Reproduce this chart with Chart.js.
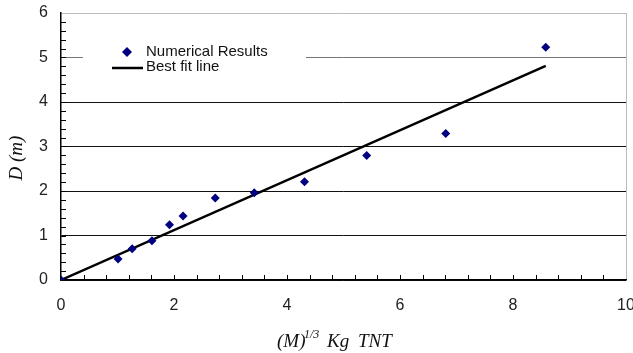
<!DOCTYPE html>
<html>
<head>
<meta charset="utf-8">
<script src="https://cdn.jsdelivr.net/npm/chart.js@4"></script>
<style>
  html, body { margin: 0; padding: 0; background: #fff; }
  #wrap { width: 633px; height: 353px; }
</style>
</head>
<body>
<div id="wrap"><canvas id="chart-depth"></canvas></div>
<script>
// cube root of charge mass (kg TNT) vs crater depth (m)
const massRoot = [0, 1.01, 1.26, 1.61, 1.92, 2.16, 2.73, 3.42, 4.31, 5.41, 6.81, 8.58];
const depth = [0, 0.47, 0.70, 0.88, 1.24, 1.44, 1.84, 1.96, 2.21, 2.80, 3.29, 5.23];

// best fit line end points
const fitX = [0, 8.58];
const fitY = [0, 4.81];

const seriesNames = ['Numerical Results', 'Best fit line'];
const xTicks = [0, 2, 4, 6, 8, 10];
const yTicks = [0, 1, 2, 3, 4, 5, 6];

const NAVY = '#000080';
const TICK_FONT = { family: 'Liberation Sans', size: 16 };

// minor ticks, legend and axis titles
const decor = {
    id: 'decor',
    afterDraw(c) {
        const { ctx, chartArea: a } = c;
        const x = c.scales.x, y = c.scales.y;
        ctx.save();

        ctx.strokeStyle = '#000';
        ctx.lineWidth = 1;
        ctx.beginPath();
        for (let v = 0.4; v < 10; v += 0.4) {
            const px = Math.round(x.getPixelForValue(v)) + 0.5;
            ctx.moveTo(px, a.bottom);
            ctx.lineTo(px, a.bottom - 5);
        }
        for (let v = 0.2; v < 6; v += 0.2) {
            const py = Math.round(y.getPixelForValue(v)) + 0.5;
            ctx.moveTo(a.left, py);
            ctx.lineTo(a.left + 5, py);
        }
        ctx.stroke();

        // legend box
        ctx.fillStyle = '#fff';
        ctx.fillRect(83, 40, 223, 40);
        ctx.fillStyle = NAVY;
        ctx.beginPath();
        ctx.moveTo(122, 52); ctx.lineTo(127, 47); ctx.lineTo(132, 52); ctx.lineTo(127, 57);
        ctx.closePath();
        ctx.fill();
        ctx.strokeStyle = '#000';
        ctx.lineWidth = 2.5;
        ctx.beginPath();
        ctx.moveTo(112, 68); ctx.lineTo(143, 68);
        ctx.stroke();
        ctx.fillStyle = '#111';
        ctx.font = '15px "Liberation Sans"';
        ctx.textBaseline = 'middle';
        ctx.fillText(seriesNames[0], 146, 52);
        ctx.fillText(seriesNames[1], 146, 67);

        // y title
        ctx.save();
        ctx.translate(22, 158);
        ctx.rotate(-Math.PI / 2);
        ctx.font = 'italic 19px "Liberation Serif"';
        ctx.textAlign = 'center';
        ctx.textBaseline = 'alphabetic';
        ctx.fillText('D (m)', 0, 0);
        ctx.restore();

        // x title with superscript
        ctx.textBaseline = 'alphabetic';
        ctx.textAlign = 'left';
        const base = 347;
        ctx.font = 'italic 19px "Liberation Serif"';
        ctx.fillText('(M)', 277, base);
        ctx.fillText('Kg', 327, base);
        ctx.fillText('TNT', 358, base);
        ctx.font = 'italic 12px "Liberation Serif"';
        ctx.fillText('1/3', 304, base - 9);

        ctx.restore();
    }
};

new Chart(document.getElementById('chart-depth').getContext('2d'), {
    type: 'scatter',
    data: {
        datasets: [{
            label: seriesNames[0],
            data: massRoot.map((v, i) => ({ x: v, y: depth[i] })),
            pointStyle: 'rectRot',
            pointRadius: 4.5,
            backgroundColor: NAVY,
            borderColor: NAVY,
            borderWidth: 0,
            order: 1,
        }, {
            label: seriesNames[1],
            type: 'line',
            data: fitX.map((v, i) => ({ x: v, y: fitY[i] })),
            borderColor: '#000',
            borderWidth: 2.5,
            pointRadius: 0,
            fill: false,
            order: 2,
        }],
    },
    options: {
        responsive: true,
        maintainAspectRatio: false,
        animation: false,
        layout: { padding: { left: 0, right: 7, top: 13, bottom: 0 } },
        plugins: { legend: { display: false }, tooltip: { enabled: false } },
        scales: {
            x: {
                type: 'linear',
                min: 0, max: 10,
                afterFit(s) { s.height = 73; s.paddingLeft = 0; s.paddingRight = 0; },
                afterBuildTicks(s) { s.ticks = xTicks.map(v => ({ value: v })); },
                ticks: { font: TICK_FONT, color: '#222', padding: 16, maxRotation: 0 },
                grid: {
                    drawTicks: false,
                    color: ctx => ctx.tick.value === 10 ? '#bbb' : 'rgba(0,0,0,0)',
                },
                border: { color: '#000', width: 1.5 },
            },
            y: {
                min: 0, max: 6,
                afterFit(s) { s.width = 61; s.paddingTop = 0; s.paddingBottom = 0; },
                afterBuildTicks(s) { s.ticks = yTicks.map(v => ({ value: v })); },
                ticks: { font: TICK_FONT, color: '#222', padding: 13 },
                grid: {
                    drawTicks: false,
                    color: ctx => ctx.tick.value === 6 ? '#bbb' : (ctx.tick.value === 5 ? '#777' : '#111'),
                },
                border: { color: '#000', width: 1.5 },
            },
        },
    },
    plugins: [decor],
});
</script>
</body>
</html>
